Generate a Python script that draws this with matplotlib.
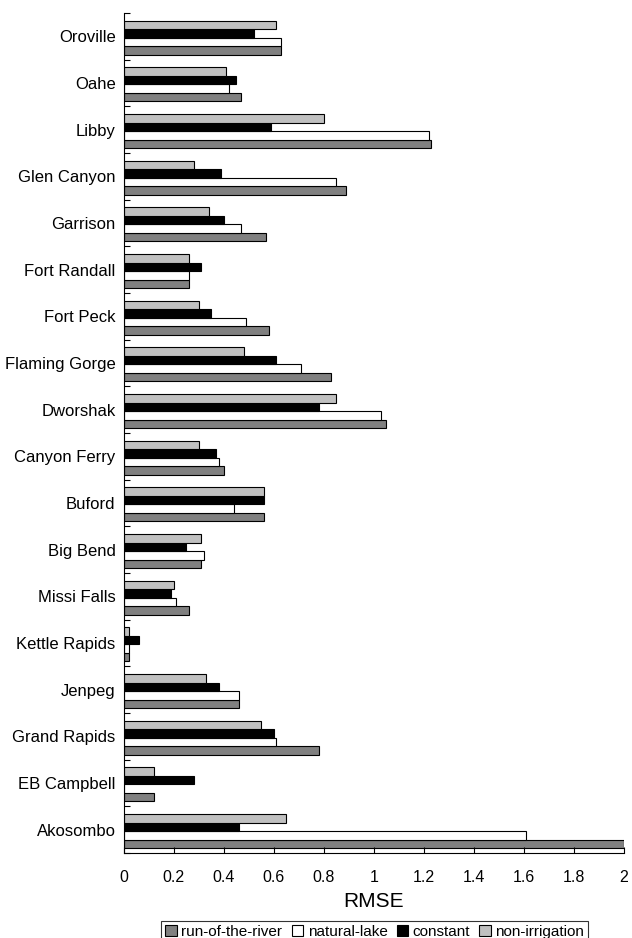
import numpy as np
import matplotlib.pyplot as plt

plt.rcParams['font.family'] = ['Liberation Sans', 'DejaVu Sans']

# categories from bottom to top
dams = ["Akosombo", "EB Campbell", "Grand Rapids", "Jenpeg", "Kettle Rapids",
        "Missi Falls", "Big Bend", "Buford", "Canyon Ferry", "Dworshak",
        "Flaming Gorge", "Fort Peck", "Fort Randall", "Garrison", "Glen Canyon",
        "Libby", "Oahe", "Oroville"]

run_of_river = [2.0, 0.12, 0.78, 0.46, 0.02, 0.26, 0.31, 0.56, 0.40, 1.05,
                0.83, 0.58, 0.26, 0.57, 0.89, 1.23, 0.47, 0.63]
natural_lake = [1.61, 0.0, 0.61, 0.46, 0.02, 0.21, 0.32, 0.44, 0.38, 1.03,
                0.71, 0.49, 0.26, 0.47, 0.85, 1.22, 0.42, 0.63]
constant = [0.46, 0.28, 0.60, 0.38, 0.06, 0.19, 0.25, 0.56, 0.37, 0.78,
            0.61, 0.35, 0.31, 0.40, 0.39, 0.59, 0.45, 0.52]
non_irrigation = [0.65, 0.12, 0.55, 0.33, 0.02, 0.20, 0.31, 0.56, 0.30, 0.85,
                  0.48, 0.30, 0.26, 0.34, 0.28, 0.80, 0.41, 0.61]

series = [("run-of-the-river", run_of_river, "#808080"),
          ("natural-lake", natural_lake, "white"),
          ("constant", constant, "black"),
          ("non-irrigation", non_irrigation, "#c0c0c0")]

fig = plt.figure(figsize=(6.32, 9.38), dpi=100)
ax = fig.add_axes([0.196, 0.0906, 0.791, 0.8955])

y = np.arange(len(dams))
h = 0.182
for k, (name, vals, col) in enumerate(series):
    ax.barh(y + (k - 1.5) * h - 0.03, vals, height=h, color=col,
            edgecolor="black", linewidth=0.8, label=name)

ax.set_xlim(0, 2)
ax.set_ylim(-0.5, len(dams) - 0.5)
ax.set_xticks(np.arange(0, 2.01, 0.2))
ax.set_xticklabels(["0", "0.2", "0.4", "0.6", "0.8", "1", "1.2", "1.4", "1.6", "1.8", "2"])
ax.set_yticks(y)
ax.set_yticklabels(dams)
ax.set_yticks(np.arange(-0.5, len(dams), 1), minor=True)
ax.tick_params(axis="y", which="major", length=0, pad=6, labelsize=12)
ax.tick_params(axis="y", which="minor", length=4, direction="in", width=0.8)
ax.tick_params(axis="x", direction="in", length=4, width=0.8, labelsize=11.5, pad=12)
ax.spines["top"].set_visible(False)
ax.spines["right"].set_visible(False)
ax.set_xlabel("RMSE", fontsize=15, labelpad=5)

leg = fig.legend(loc="lower center", bbox_to_anchor=(0.593, -0.008), ncol=4,
                 fontsize=11, frameon=True, fancybox=False, edgecolor="black",
                 handlelength=0.75, handleheight=0.75, handletextpad=0.3,
                 columnspacing=0.6, borderpad=0.25, borderaxespad=0.2)
leg.get_frame().set_linewidth(0.8)

fig.savefig("out.png", dpi=100)
